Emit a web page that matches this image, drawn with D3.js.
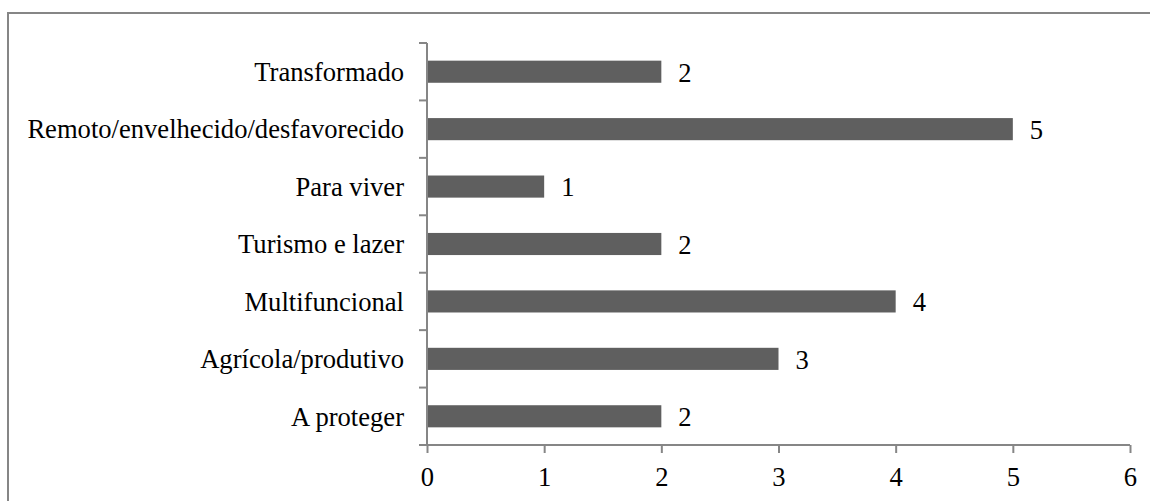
<!DOCTYPE html>
<html>
<head>
<meta charset="utf-8">
<script src="https://cdn.jsdelivr.net/npm/d3@7"></script>
<style>
  html, body { margin: 0; padding: 0; background: #fff; }
  svg { display: block; }
  svg text { font-family: "Liberation Serif", "Times New Roman", Times, serif; font-size: 26.6px; fill: #000; }
</style>
</head>
<body>
<svg id="chart" width="1150" height="501"></svg>
<script>
// Category labels (top to bottom) and their counts
const categories = [
  "Transformado",
  "Remoto/envelhecido/desfavorecido",
  "Para viver",
  "Turismo e lazer",
  "Multifuncional",
  "Agrícola/produtivo",
  "A proteger"
];
const counts = [2, 5, 1, 2, 4, 3, 2];
const xTicks = [0, 1, 2, 3, 4, 5, 6];

const svg = d3.select("#chart");
const W = 1150, H = 501;
const plot = { left: 427, right: 1130, top: 43, bottom: 445 };
const axisColor = "#868686";
const barColor = "#5f5f5f";

// Outer frame of the chart area
svg.append("rect")
  .attr("x", 8).attr("y", 13)
  .attr("width", W + 10).attr("height", H + 10)
  .attr("fill", "#fff")
  .attr("stroke", axisColor).attr("stroke-width", 2);

const x = d3.scaleLinear().domain([0, 6]).range([plot.left, plot.right]);
const y = d3.scaleBand().domain(categories).range([plot.top, plot.bottom]).paddingInner(0).paddingOuter(0);
const barH = y.bandwidth() * 0.385;

const data = categories.map((c, i) => ({ cat: c, val: counts[i] }));

// Bars
svg.append("g").selectAll("rect")
  .data(data).join("rect")
  .attr("x", x(0) + 1)
  .attr("y", d => y(d.cat) + (y.bandwidth() - barH) / 2)
  .attr("width", d => x(d.val) - x(0) - 1)
  .attr("height", barH)
  .attr("fill", barColor);

// Value labels
svg.append("g").selectAll("text")
  .data(data).join("text")
  .attr("x", d => x(d.val) + 17)
  .attr("y", d => y(d.cat) + y.bandwidth() / 2)
  .attr("dy", "0.37em")
  .text(d => d.val);

// Y axis: line with ticks at category boundaries
const yAxis = svg.append("g");
yAxis.append("line")
  .attr("x1", plot.left).attr("x2", plot.left)
  .attr("y1", plot.top).attr("y2", plot.bottom)
  .attr("stroke", axisColor).attr("stroke-width", 2);
const bounds = categories.map(c => y(c)).concat([plot.bottom]);
yAxis.selectAll("line.tick")
  .data(bounds).join("line").attr("class", "tick")
  .attr("x1", plot.left - 8).attr("x2", plot.left)
  .attr("y1", d => d).attr("y2", d => d)
  .attr("stroke", axisColor).attr("stroke-width", 2);
yAxis.selectAll("text")
  .data(categories).join("text")
  .attr("x", plot.left - 23)
  .attr("y", d => y(d) + y.bandwidth() / 2)
  .attr("dy", "0.35em")
  .attr("text-anchor", "end")
  .text(d => d);

// X axis
const xAxis = svg.append("g")
  .attr("transform", `translate(0,${plot.bottom})`)
  .call(d3.axisBottom(x).tickValues(xTicks).tickFormat(d3.format("d")).tickSize(8).tickPadding(14));
xAxis.attr("font-family", null).attr("font-size", null);
xAxis.select(".domain").attr("stroke", axisColor).attr("stroke-width", 2)
  .attr("d", `M${plot.left},0H${plot.right}`);
xAxis.selectAll(".tick line").attr("stroke", axisColor).attr("stroke-width", 2);
xAxis.selectAll(".tick text").attr("fill", null);
</script>
</body>
</html>
